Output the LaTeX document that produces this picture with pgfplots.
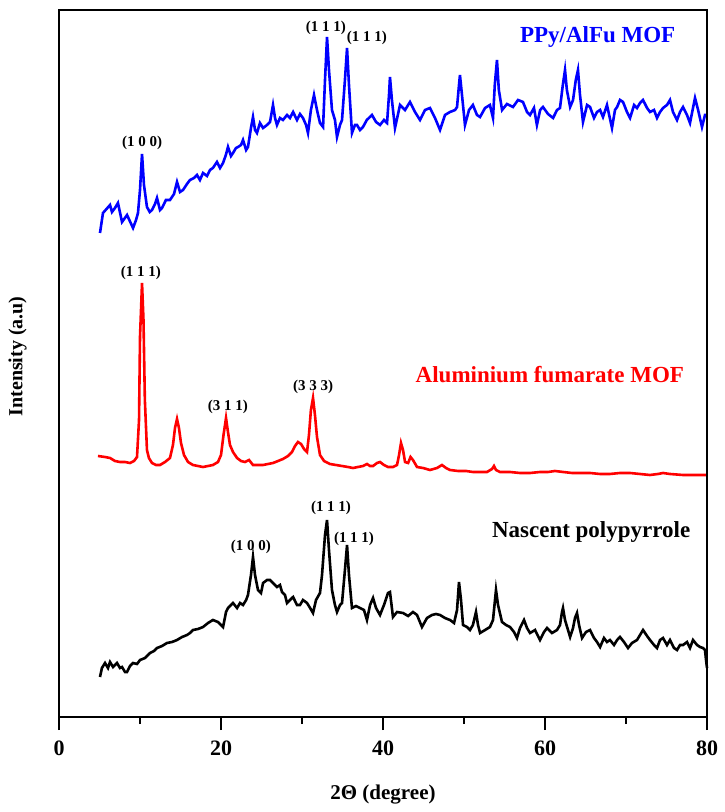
\documentclass[border=0pt]{standalone}
\usepackage{fontspec}
\setmainfont{Liberation Serif}
\usepackage{pgfplots}
\pgfplotsset{compat=1.18}
\begin{document}
\begin{tikzpicture}
\begin{axis}[
  scale only axis,
  width=324pt, height=353.5pt,
  at={(0pt,0pt)}, anchor=south west,
  xmin=0, xmax=80, ymin=0, ymax=707,
  axis lines=box,
  axis line style={black, line width=1.2pt},
  xtick={0,20,40,60,80},
  minor xtick={10,30,50,70},
  xtick pos=left,
  tick align=outside,
  major tick length=6.5pt,
  minor tick length=3.5pt,
  every tick/.append style={black, line width=1.1pt},
  ytick=\empty,
  /pgf/number format/assume math mode=true,
  xticklabel style={font=\bfseries\fontsize{11}{13}\selectfont, anchor=center, yshift=-9pt},
  xlabel={2Θ (degree)},
  xlabel style={font=\bfseries\fontsize{10.5}{12}\selectfont, at={(axis description cs:0.5,0)}, anchor=center, yshift=-39pt},
  ylabel={Intensity (a.u)},
  ylabel style={font=\bfseries\fontsize{10}{12}\selectfont, at={(axis description cs:-0.064,0.51)}, anchor=center},
  clip=false,
]
% PPy/AlFu MOF (blue)
\addplot[blue, line width=1.3pt] coordinates {
(5.06,484)(5.43,504)(6.30,512)(6.54,505)(6.91,509)(7.28,514)(7.78,495)(8.40,502)(9.14,489)(9.51,497)(9.75,504)
(10.0,527)(10.25,563)(10.49,532)(10.86,510)(11.2,505)(11.48,507)(11.85,513)(12.1,519)(12.47,507)(12.72,509)
(13.2,517)(13.7,517)(14.2,523)(14.57,535)(14.94,525)(15.31,527)(15.8,533)(16.17,537)(16.67,539)(17.04,542)
(17.4,537)(17.78,544)(18.27,541)(18.64,547)(19.0,549)(19.5,555)(19.88,549)(20.25,554)(20.6,562)(20.86,570)
(21.23,561)(21.48,564)(21.85,569)(22.1,570)(22.47,572)(22.72,577)(23.1,567)(23.33,570)(23.7,589)(23.95,600)
(24.2,587)(24.44,584)(24.81,594)(25.19,589)(25.68,592)(26.05,595)(26.42,612)(26.67,599)(26.91,592)(27.28,599)
(27.65,597)(28.15,602)(28.52,599)(28.9,605)(29.38,597)(29.75,603)(30.12,599)(30.5,592)(30.74,584)(31.1,607)
(31.48,622)(31.85,607)(32.22,594)(32.6,590)(32.84,637)(33.09,680)(33.33,647)(33.7,607)(34.07,597)(34.32,580)
(34.69,592)(34.94,597)(35.3,637)(35.56,669)(35.8,632)(36.17,584)(36.54,592)(36.79,592)(37.16,587)(37.53,590)
(38.0,597)(38.64,602)(39.14,595)(39.63,592)(40.12,597)(40.5,594)(40.74,622)(40.86,640)(41.1,617)(41.48,589)
(42.1,612)(42.72,607)(43.33,615)(43.95,605)(44.57,597)(45.19,607)(45.8,609)(46.42,599)(47.04,587)(47.65,602)
(48.27,605)(48.9,607)(49.14,610)(49.38,632)(49.5,642)(49.75,622)(50.12,592)(50.62,607)(51.1,612)(51.6,602)
(51.98,600)(52.6,609)(53.2,612)(53.58,599)(53.8,632)(54.07,657)(54.3,627)(54.7,607)(55.3,613)(56.05,610)
(56.67,617)(57.28,615)(57.78,605)(58.15,602)(58.64,609)(59.0,592)(59.4,607)(59.75,610)(60.37,603)(61.0,599)
(61.48,607)(61.85,609)(62.2,632)(62.47,647)(62.7,627)(63.1,610)(63.46,617)(63.8,637)(64.07,647)(64.32,622)
(64.69,595)(65.19,612)(65.56,610)(66.05,599)(66.42,605)(66.8,607)(67.16,600)(67.65,612)(68.27,589)(68.64,607)
(68.9,610)(69.26,617)(69.63,615)(70.12,605)(70.5,599)(71.0,612)(71.36,609)(71.73,614)(72.1,617)(72.6,609)
(72.96,605)(73.46,607)(73.83,599)(74.2,605)(74.57,609)(75.06,612)(75.43,617)(75.8,605)(76.3,597)(76.67,605)
(77.04,610)(77.53,602)(77.9,594)(78.27,609)(78.52,619)(78.9,607)(79.38,590)(79.75,602)(80.0,602)
};
% Aluminium fumarate MOF (red)
\addplot[red, line width=1.3pt] coordinates {
(4.81,261)(5.68,260)(6.3,259)(6.91,256)(7.53,255)(8.15,255)(8.77,254)(9.26,256)(9.63,260)(9.88,297)
(10.0,380)(10.25,434)(10.43,397)(10.6,317)(10.86,267)(11.1,259)(11.48,254)(11.98,252)(12.47,252)(13.09,255)
(13.7,259)(14.07,272)(14.32,289)(14.57,298)(14.81,289)(15.06,274)(15.43,262)(15.93,255)(16.54,252)(17.16,251)
(17.78,250)(18.4,251)(19.0,252)(19.63,255)(20.0,262)(20.31,282)(20.62,299)(20.86,285)(21.11,272)(21.48,265)
(21.98,259)(22.47,256)(22.96,255)(23.46,257)(23.95,252)(24.57,252)(25.19,252)(25.8,253)(26.42,254)(27.04,256)
(27.65,258)(28.27,261)(28.77,265)(29.14,271)(29.5,275)(29.88,273)(30.25,268)(30.62,265)(30.86,282)(31.1,307)
(31.36,319)(31.6,302)(31.85,280)(32.22,262)(32.72,256)(33.46,253)(34.2,252)(34.94,251)(35.68,250)(36.3,249)
(36.9,250)(37.53,251)(38.02,253)(38.4,251)(38.77,251)(39.26,254)(39.63,255)(40.12,252)(40.62,250)(41.23,250)
(41.73,252)(41.98,262)(42.22,274)(42.47,267)(42.72,255)(43.1,254)(43.4,260)(43.7,257)(44.2,250)(44.94,249)
(45.8,247)(46.67,249)(47.28,252)(47.78,249)(48.27,247)(49.26,246)(50.25,246)(51.1,245)(51.98,245)(52.84,245)
(53.46,248)(53.7,251)(53.95,247)(54.44,245)(55.68,245)(56.9,244)(58.15,244)(59.38,245)(60.37,245)(61.23,246)
(62.22,245)(63.33,244)(64.32,244)(65.56,244)(66.8,243)(68.0,243)(69.26,244)(70.5,244)(71.73,243)(72.96,242)
(73.95,243)(74.57,244)(75.43,243)(77.04,242)(78.52,242)(80.0,242)
};
% Nascent polypyrrole (black)
\addplot[black, line width=1.3pt] coordinates {
(5.06,40)(5.3,49)(5.68,54)(6.05,49)(6.3,55)(6.67,50)(7.16,54)(7.53,49)(7.78,50)(8.15,45)(8.4,45)(8.77,51)
(9.14,54)(9.63,53)(10.0,57)(10.62,59)(11.23,64)(11.73,66)(12.1,69)(12.72,71)(13.33,74)(13.95,75)(14.57,77)
(15.19,80)(15.8,82)(16.17,84)(16.54,87)(17.16,88)(17.78,90)(18.4,94)(19.0,97)(19.63,95)(20.25,90)(20.62,105)
(20.86,109)(21.23,112)(21.48,114)(21.98,109)(22.35,114)(22.72,112)(23.1,117)(23.33,122)(23.7,142)(23.95,160)
(24.2,142)(24.57,127)(24.94,124)(25.19,134)(25.68,137)(26.05,137)(26.42,134)(26.91,130)(27.28,132)(27.53,125)
(27.9,122)(28.15,114)(28.52,117)(28.9,120)(29.38,112)(29.75,112)(30.12,117)(30.62,114)(31.0,109)(31.36,104)
(31.73,117)(32.22,124)(32.47,142)(32.84,182)(33.09,197)(33.33,167)(33.7,127)(34.07,112)(34.32,105)(34.69,112)
(34.94,114)(35.3,147)(35.56,172)(35.8,142)(36.17,109)(36.67,111)(37.16,109)(37.65,107)(38.02,97)(38.4,112)
(38.77,119)(39.14,109)(39.63,102)(40.12,112)(40.62,124)(40.86,125)(41.23,100)(41.73,105)(42.47,104)(43.1,101)
(43.7,105)(44.2,102)(44.81,90)(45.43,99)(46.05,102)(46.54,103)(47.04,102)(47.65,99)(48.27,97)(48.77,94)
(49.14,107)(49.38,135)(49.63,117)(49.88,92)(50.37,90)(50.74,87)(51.1,92)(51.48,105)(51.73,92)(51.98,84)
(52.6,87)(53.2,90)(53.58,97)(53.95,127)(54.2,112)(54.69,95)(55.19,92)(55.68,90)(56.17,85)(56.54,79)(56.91,89)
(57.41,97)(57.78,89)(58.15,84)(58.77,87)(59.38,77)(59.88,85)(60.25,89)(60.86,84)(61.48,87)(61.85,92)(62.1,105)
(62.22,109)(62.47,97)(62.84,87)(63.1,80)(63.46,89)(63.7,99)(63.95,104)(64.2,92)(64.57,79)(65.06,85)(65.56,87)
(66.05,79)(66.42,75)(66.8,70)(67.28,79)(67.65,75)(68.02,77)(68.52,72)(68.9,77)(69.26,80)(69.75,75)(70.25,69)
(70.74,74)(71.36,77)(71.73,82)(72.1,87)(72.6,81)(72.96,77)(73.46,72)(73.83,69)(74.2,77)(74.57,79)(75.06,72)
(75.43,77)(75.93,69)(76.3,67)(76.67,72)(77.04,72)(77.53,75)(77.9,69)(78.27,77)(78.77,72)(79.14,70)(79.51,69)
(79.75,67)(79.88,57)(80.0,49)
};
% series names
\node[font=\bfseries\fontsize{11.5}{13}\selectfont, text=blue] at (axis cs:66.5,680) {PPy/AlFu MOF};
\node[font=\bfseries\fontsize{11.5}{13}\selectfont, text=red] at (axis cs:60.6,342) {Aluminium fumarate MOF};
\node[font=\bfseries\fontsize{11.5}{13}\selectfont, text=black] at (axis cs:65.7,185) {Nascent polypyrrole};
% peak labels
\begin{scope}[every node/.style={font=\bfseries\fontsize{7.5}{9}\selectfont, inner sep=0pt}]
\node at (axis cs:10.25,574) {(1 0 0)};
\node at (axis cs:32.96,689) {(1 1 1)};
\node at (axis cs:38.0,679) {(1 1 1)};
\node at (axis cs:10.12,444) {(1 1 1)};
\node at (axis cs:20.86,310) {(3 1 1)};
\node at (axis cs:31.36,330) {(3 3 3)};
\node at (axis cs:23.7,170) {(1 0 0)};
\node at (axis cs:33.58,209) {(1 1 1)};
\node at (axis cs:36.42,178) {(1 1 1)};
\end{scope}
\end{axis}
\fill[black] (-0.6pt,352.9pt) rectangle (324.6pt,354.1pt);
\fill[black] (323.4pt,-0.6pt) rectangle (324.6pt,354.1pt);
\path (-29.5pt,-47.5pt) (332.5pt,358.5pt);
\end{tikzpicture}
\end{document}
